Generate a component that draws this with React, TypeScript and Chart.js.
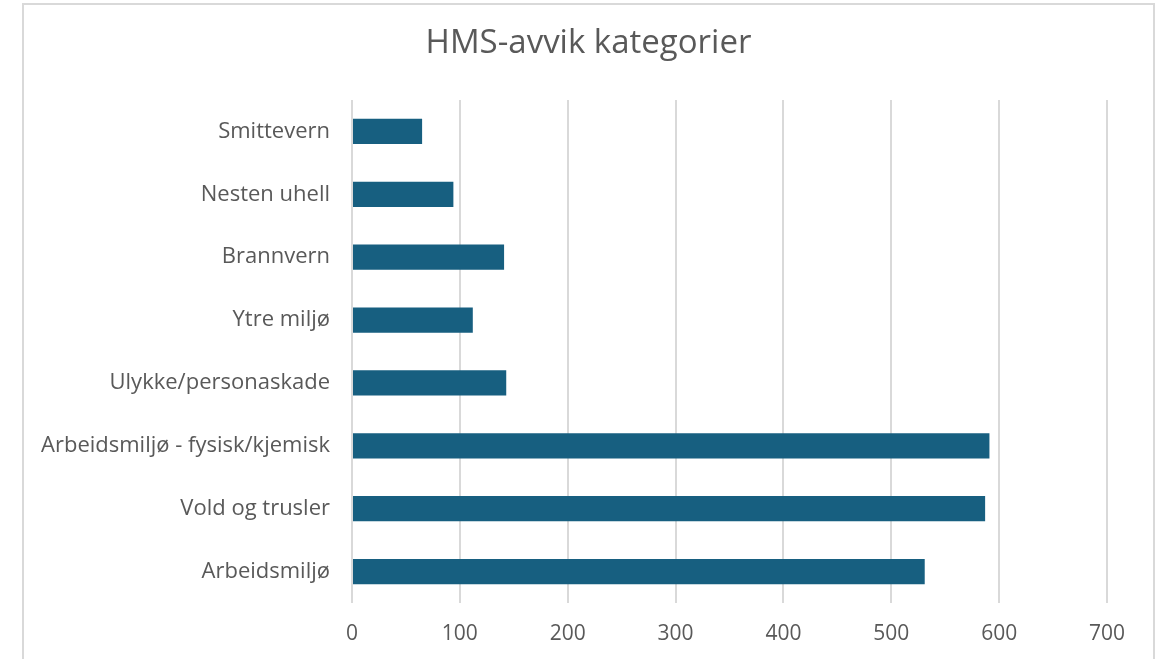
import React, { useEffect, useRef } from "react";
import { Chart, registerables } from "chart.js";

Chart.register(...registerables);

const categories = [
  "Smittevern",
  "Nesten uhell",
  "Brannvern",
  "Ytre miljø",
  "Ulykke/personaskade",
  "Arbeidsmiljø - fysisk/kjemisk",
  "Vold og trusler",
  "Arbeidsmiljø",
];
const values = [65, 94, 141, 112, 143, 591, 587, 531];
const xTicks = [0, 100, 200, 300, 400, 500, 600, 700];
const titleText = "HMS-avvik kategorier";

const FONT = "'Open Sans', 'Noto Sans', sans-serif";

const centerTitle = {
  id: "centerTitle",
  afterLayout(chart: any) {
    const tb = chart.titleBlock;
    if (tb) {
      tb.left = 22;
      tb.right = 1155;
      tb.width = 1133;
    }
  },
};

export default function App() {
  const ref = useRef<HTMLCanvasElement | null>(null);
  useEffect(() => {
    if (!ref.current) return;
    const chart = new Chart(ref.current, {
      type: "bar",
      data: {
        labels: categories,
        datasets: [
          {
            label: "Antall",
            data: values,
            backgroundColor: "#175f80",
            borderWidth: 0,
            barPercentage: 0.4,
            categoryPercentage: 1,
          },
        ],
      },
      plugins: [centerTitle],
      options: {
        indexAxis: "y",
        animation: false,
        responsive: false,
        maintainAspectRatio: false,
        layout: { padding: { left: 0, right: 56, top: 0, bottom: 0 } },
        plugins: {
          legend: { display: false },
          tooltip: { enabled: false },
          title: {
            display: true,
            text: titleText,
            color: "#595959",
            font: { family: FONT, size: 33, weight: "normal" },
            padding: { top: 24, bottom: 36.4 },
          },
        },
        scales: {
          x: {
            min: 0,
            max: 700,
            afterBuildTicks: (axis: any) => {
              axis.ticks = xTicks.map((v) => ({ value: v }));
            },
            afterFit: (axis: any) => {
              axis.height = 56;
            },
            grid: { color: "#d9d9d9", lineWidth: 2, drawTicks: false },
            border: { display: false },
            ticks: {
              color: "#595959",
              padding: 18,
              font: { family: FONT, size: 21 },
            },
          },
          y: {
            afterFit: (axis: any) => {
              axis.width = 352;
            },
            grid: { display: false, drawTicks: false },
            border: { display: false },
            ticks: {
              color: "#595959",
              padding: 22,
              font: { family: FONT, size: 22 },
            },
          },
        },
      },
    });
    return () => chart.destroy();
  }, []);

  return (
    <div
      style={{
        position: "fixed",
        left: 0,
        top: 0,
        width: 1163,
        height: 659,
        overflow: "hidden",
        background: "#ffffff",
      }}
    >
      <div
        style={{
          position: "absolute",
          left: 22,
          top: 3,
          width: 1133,
          height: 720,
          border: "2px solid #d9d9d9",
          boxSizing: "border-box",
        }}
      />
      <canvas
        ref={ref}
        width={1163}
        height={659}
        style={{ position: "absolute", left: 0, top: 0, width: 1163, height: 659 }}
      />
    </div>
  );
}
